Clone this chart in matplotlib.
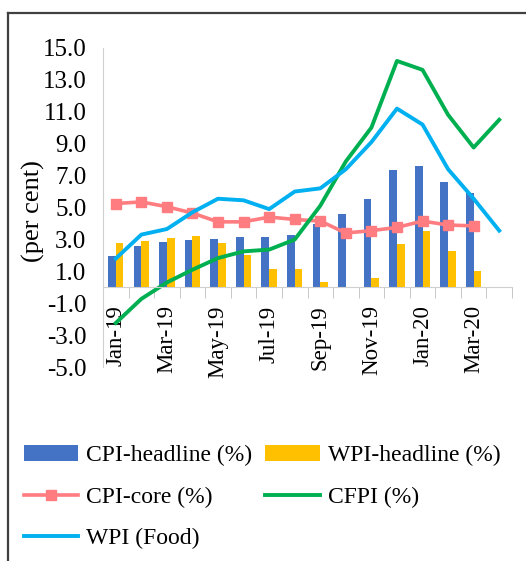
import matplotlib
matplotlib.use("Agg")
import matplotlib.pyplot as plt
from matplotlib.lines import Line2D
import numpy as np

plt.rcParams["font.family"] = ["Liberation Serif", "DejaVu Serif"]

# monthly data, Jan-19 .. Apr-20
months = ["Jan-19", "Feb-19", "Mar-19", "Apr-19", "May-19", "Jun-19", "Jul-19",
          "Aug-19", "Sep-19", "Oct-19", "Nov-19", "Dec-19", "Jan-20", "Feb-20",
          "Mar-20", "Apr-20"]
cpi_headline = [1.97, 2.57, 2.86, 2.99, 3.05, 3.18, 3.15, 3.28, 3.99, 4.62,
                5.54, 7.35, 7.59, 6.58, 5.91, np.nan]
wpi_headline = [2.76, 2.93, 3.10, 3.24, 2.79, 2.02, 1.17, 1.17, 0.33, 0.0,
                0.58, 2.70, 3.52, 2.26, 1.00, np.nan]
cpi_core = [5.25, 5.35, 5.05, 4.65, 4.10, 4.10, 4.40, 4.25, 4.15, 3.40,
            3.55, 3.75, 4.15, 3.90, 3.85, np.nan]
cfpi = [-2.24, -0.73, 0.30, 1.10, 1.83, 2.25, 2.36, 2.99, 5.11, 7.89,
        10.01, 14.19, 13.63, 10.81, 8.76, 10.50]
wpi_food = [1.80, 3.30, 3.65, 4.70, 5.55, 5.45, 4.90, 6.00, 6.20, 7.40,
            9.10, 11.20, 10.20, 7.40, 5.55, 3.55]

yticks = [-5, -3, -1, 1, 3, 5, 7, 9, 11, 13, 15]

W, H = 526, 561
fig = plt.figure(figsize=(W / 100, H / 100), dpi=100)
ax = fig.add_axes([103 / W, 1 - 367 / H, (512 - 103) / W, (367 - 48) / H])

# spine position first: moving it resets the ticks
for s in ["top", "right"]:
    ax.spines[s].set_visible(False)
ax.spines["bottom"].set_position(("data", 0))
ax.spines["bottom"].set_color("#D0D0D0")
ax.spines["left"].set_color("#D0D0D0")

x = np.arange(len(months))
bw = 0.3
ax.bar(x - bw / 2, cpi_headline, bw, color="#4472C4", label="CPI-headline (%)")
ax.bar(x + bw / 2, wpi_headline, bw, color="#FFC000", label="WPI-headline (%)")
ax.plot(x, cpi_core, color="#FF7C80", lw=2.6, marker="s", ms=7,
        label="CPI-core (%)")
ax.plot(x, cfpi, color="#00B050", lw=2.8, label="CFPI (%)")
ax.plot(x, wpi_food, color="#00B0F0", lw=2.8, label="WPI (Food)")

ax.set_xlim(-0.5, len(months) - 0.5)
ax.set_ylim(-5, 15)
ax.set_yticks(yticks)
ax.set_yticklabels([f"{v:.1f}" for v in yticks], fontsize=18)
ax.tick_params(axis="y", length=0, pad=12)

ax.set_xticks(x[::2])
ax.set_xticklabels(months[::2], rotation=90, fontsize=16.5)
ax.set_xticks(np.arange(-0.5, len(months), 1), minor=True)
ax.tick_params(axis="x", which="major", length=0, pad=13)
ax.tick_params(axis="x", which="minor", length=8, color="#BFBFBF")

ax.set_ylabel("(per cent)", fontsize=19)
ax.yaxis.set_label_coords(-0.142, 0.49)

# row-major layout: column 1 = CPI-headline, CPI-core, WPI (Food)
h, l = ax.get_legend_handles_labels()
hdict = dict(zip(l, h))
labels = ["CPI-headline (%)", "CPI-core (%)", "WPI (Food)",
          "WPI-headline (%)", "CFPI (%)"]
fig.legend([hdict[k] for k in labels], labels, ncol=2, frameon=False,
           loc="upper left", bbox_to_anchor=(12 / W, 1 - 433 / H),
           fontsize=17, handlelength=2.3, handletextpad=0.35,
           columnspacing=0.55, labelspacing=0.85, borderpad=0)

# outer frame
fig.add_artist(Line2D([8 / W, 1], [1 - 13 / H, 1 - 13 / H], color="#404040",
                      lw=1.6, transform=fig.transFigure))
fig.add_artist(Line2D([8 / W, 8 / W], [0, 1 - 13 / H], color="#404040",
                      lw=1.6, transform=fig.transFigure))

fig.savefig("out.png", dpi=100)
